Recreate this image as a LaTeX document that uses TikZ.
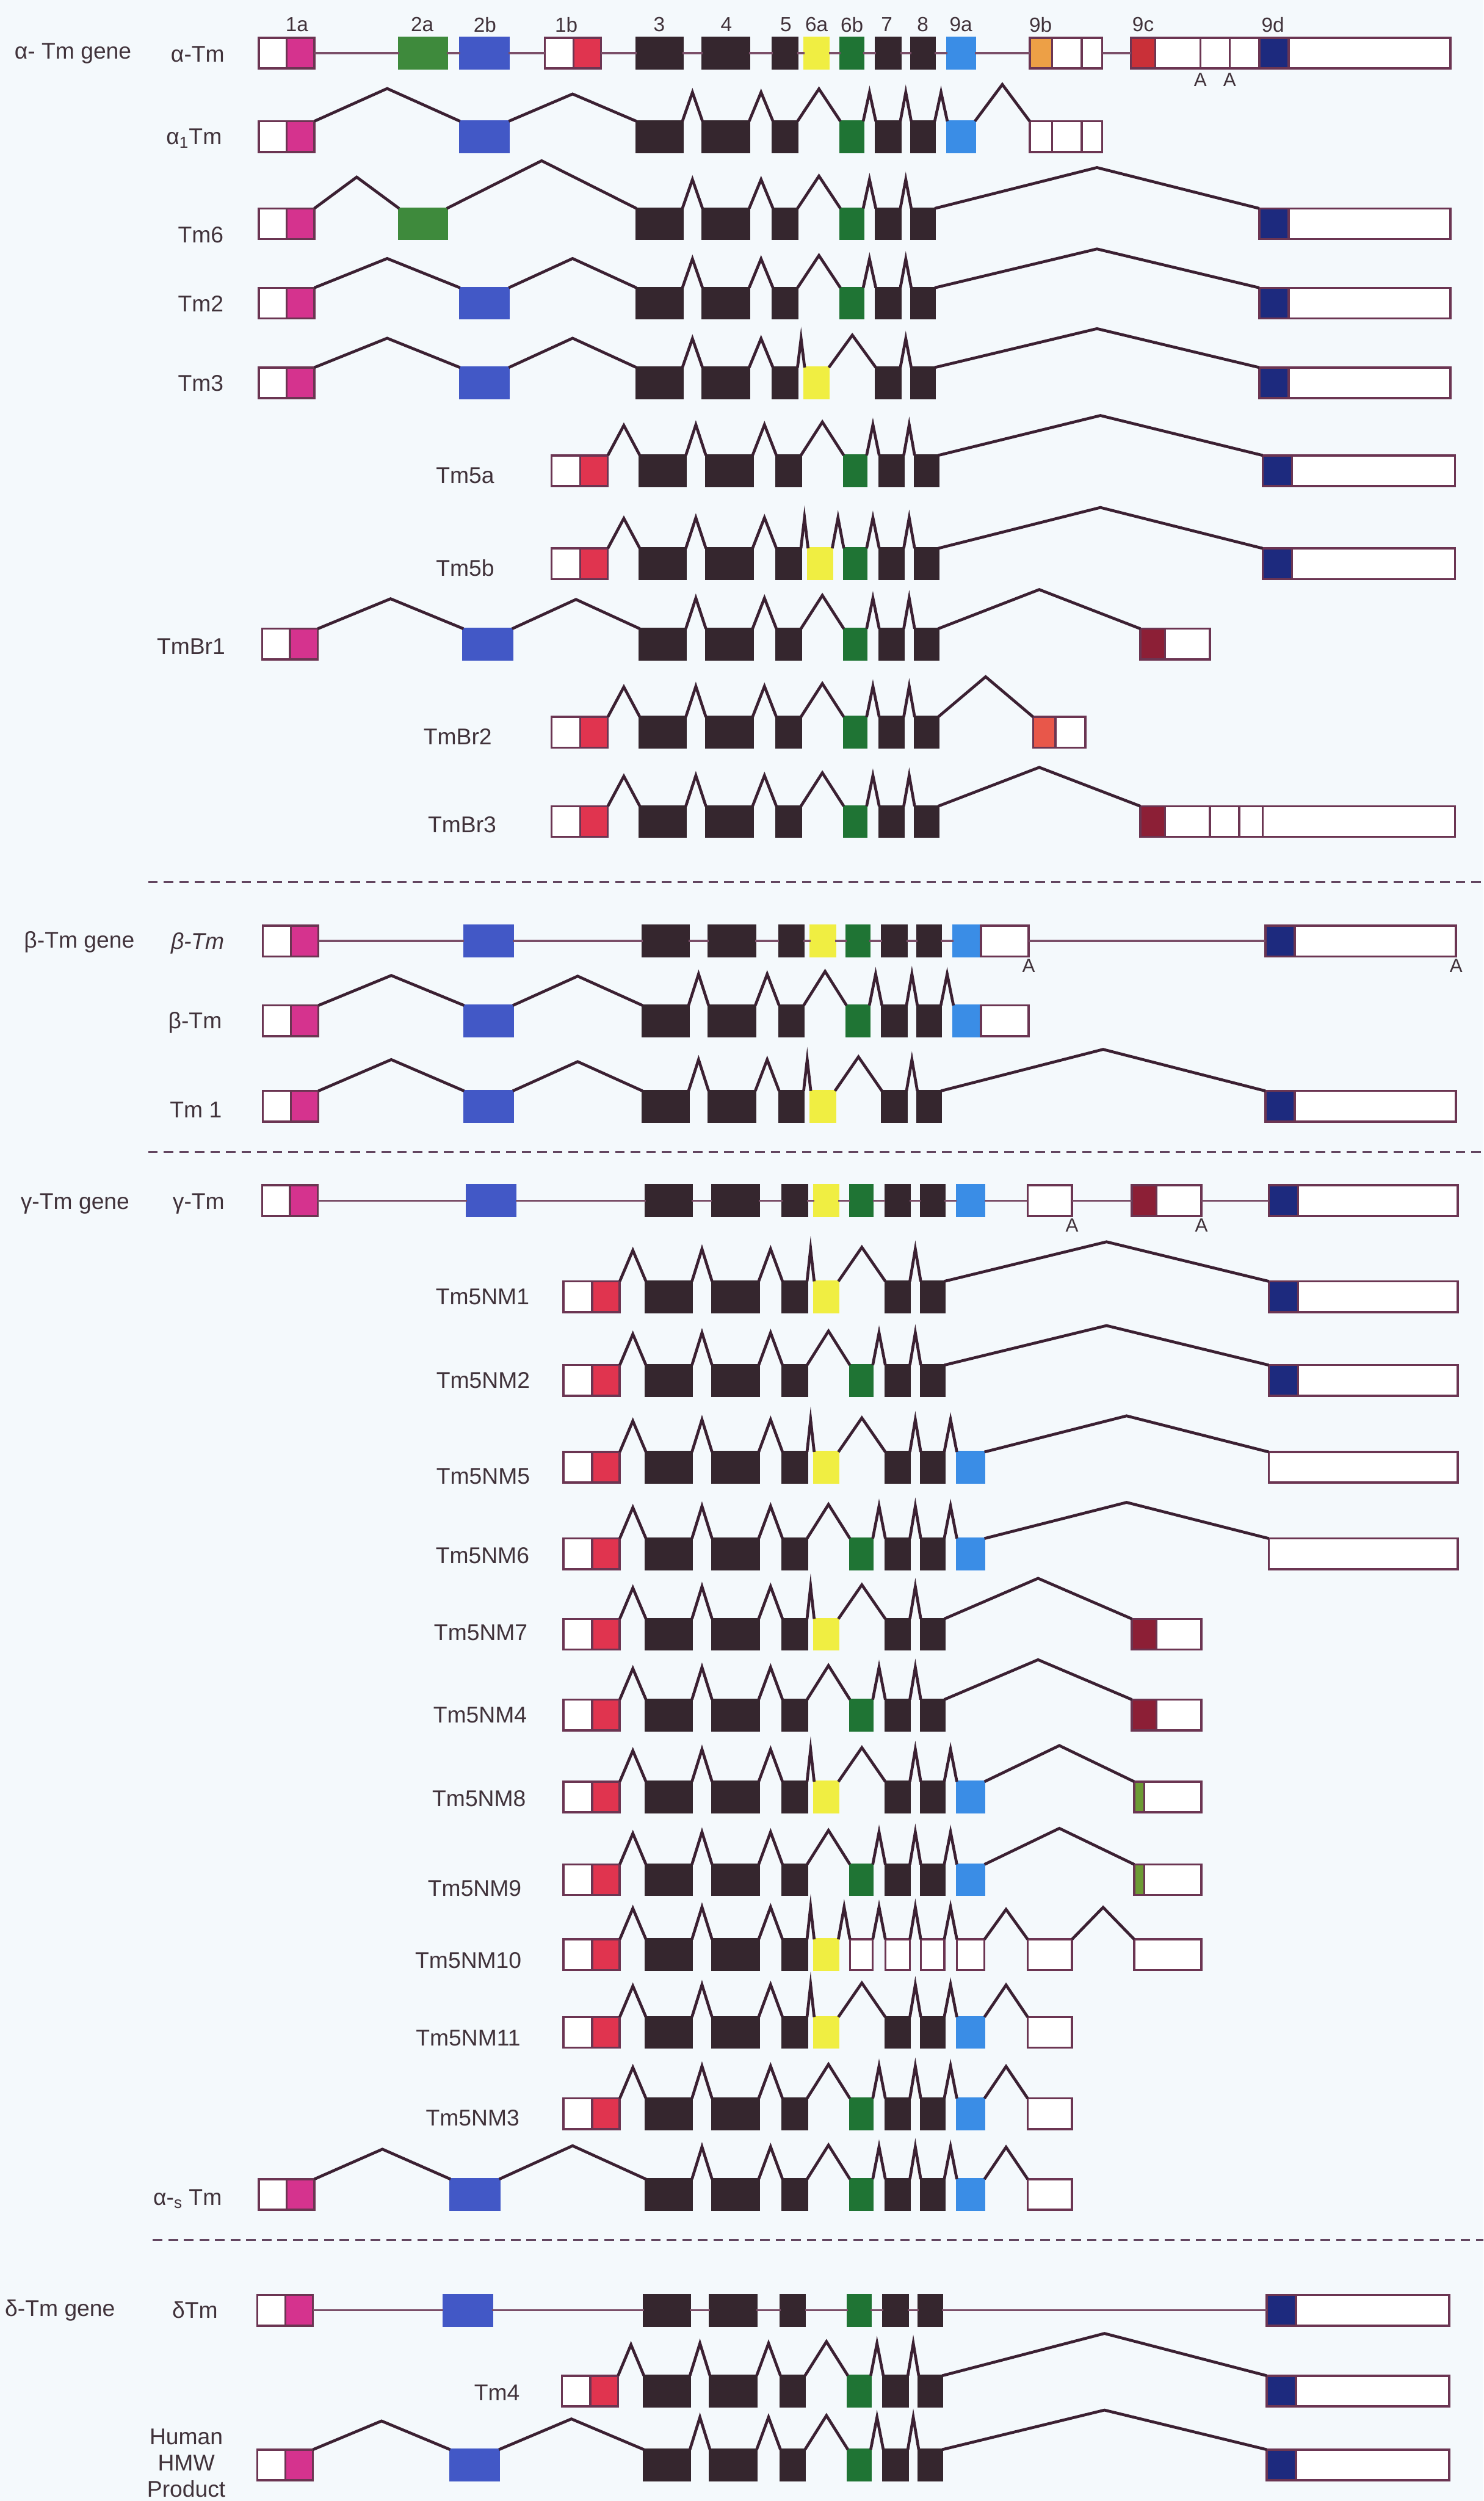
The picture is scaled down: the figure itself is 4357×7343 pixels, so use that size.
\documentclass[tikz,border=0pt]{standalone}
\usepackage{fontspec}
\setmainfont{Liberation Sans}
\usetikzlibrary{calc}

\definecolor{bg}{HTML}{F4F9FC}
\definecolor{outl}{HTML}{6B3552}
\definecolor{splicec}{HTML}{3B2032}
\definecolor{intronc}{HTML}{7A4E68}
\definecolor{darkex}{HTML}{35262E}
\definecolor{txt}{HTML}{40323A}
\definecolor{dashc}{HTML}{634660}
\definecolor{cMag}{HTML}{D5338E}
\definecolor{cRed}{HTML}{E0344F}
\definecolor{cGreenA}{HTML}{3E8A3C}
\definecolor{cBlue}{HTML}{4258C6}
\definecolor{cYellow}{HTML}{F0EE42}
\definecolor{cGreenB}{HTML}{1F7434}
\definecolor{cSky}{HTML}{3A8DE6}
\definecolor{cOrange}{HTML}{EDA046}
\definecolor{cRedC}{HTML}{C93038}
\definecolor{cMaroon}{HTML}{8C1F36}
\definecolor{cNavy}{HTML}{1D2A7E}
\definecolor{cSalmon}{HTML}{E8574A}
\definecolor{cOlive}{HTML}{6C9A34}

% exon grid: key -> left and right edge; shifts set per block of rows
\newcommand\setx[3]{\expandafter\def\csname xl@#1\endcsname{#2}\expandafter\def\csname xr@#1\endcsname{#3}}
\setx{1aw}{\ls+760}{\ls+842}
\setx{1a}{\ls+842}{\ls+923}
\setx{2a}{\ls+1172}{\ls+1312}
\setx{2b}{\ls+\bs+1351}{\ls+\bs+1494}
\setx{1bw}{\ms+1600}{\ms+1684}
\setx{1b}{\ms+1684}{\ms+1765}
\setx{3}{\rs+1869}{\rs+2004}
\setx{4}{\rs+2063}{\rs+2200}
\setx{5}{\rs+2270}{\rs+2342}
\setx{6a}{\rs+2363}{\rs+2434}
\setx{6b}{\rs+2468}{\rs+2535}
\setx{7}{\rs+2572}{\rs+2644}
\setx{8}{\rs+2676}{\rs+2745}
\setx{9a}{\rs+2782}{\rs+2863}
\setx{9aw}{\rs+2863}{\rs+3003}
\setx{9b}{\rs+3024}{\rs+3090}
\setx{9bw1}{\rs+3090}{\rs+3177}
\setx{9bw2}{\rs+3177}{\rs+3237}
\setx{9bx}{\rs+2990}{\rs+3120}
\setx{9c}{\cs+3321}{\cs+3393}
\setx{9cw1}{\cs+3393}{\cs+3525}
\setx{9cw2}{\cs+3525}{\cs+3611}
\setx{9cw3}{\cs+3611}{\rs+3698}
\setx{9cg}{\cs+3328}{\cs+3357}
\setx{9cgw}{\cs+3357}{\cs+3525}
\setx{9cx}{\cs+3328}{\cs+3525}
\setx{9d}{\rs+3698}{\rs+3784}
\setx{9dw}{\rs+3784}{\es+4259}
\setx{9dx}{\rs+3698}{\es+4259}

% one exon box of the current row
\newcommand\exon[2]{%
  \pgfmathsetmacro\exA{\csname xl@#1\endcsname}%
  \pgfmathsetmacro\exB{\csname xr@#1\endcsname}%
  \pgfmathsetmacro\exW{(\exB-\exA)*0.01}%
  \node[#2,minimum width=\exW cm,anchor=north west] (\rowp x#1) at (\exA,\rowt) {};}
% splice junction drawn as a peak between two exons
\newcommand\sj[3][\hs]{\draw[splice] (\rowp x#2.north east) -- ($(\rowp x#2.north east)!0.5!(\rowp x#3.north west)+(0,-#1)$) -- (\rowp x#3.north west);}
% intron line of a gene row
\newcommand\intr[2]{\draw[intron] (\rowp x#1.east) -- (\rowp x#2.west);}

\tikzset{
  exon/.style={draw=outl, line width=1.8pt, inner sep=0pt, outer sep=0pt, minimum height=0.9cm, fill=white},
  wh/.style={exon},
  dk/.style={exon, fill=darkex, draw=darkex},
  fx/.style={exon, fill=#1, draw=#1},
  cx/.style={exon, fill=#1},
  splice/.style={draw=splicec, line width=2.4pt, line join=miter},
  intron/.style={draw=intronc, line width=1.8pt},
  divider/.style={draw=dashc, line width=1.5pt, dash pattern=on 8pt off 5pt},
  lab/.style={text=txt, font=\fontsize{19}{22}\selectfont, inner sep=0pt},
  num/.style={text=txt, font=\fontsize{17}{20}\selectfont, inner sep=0pt},
  polyA/.style={text=txt, font=\fontsize{16}{18}\selectfont, inner sep=0pt},
}

\begin{document}
\begin{tikzpicture}[x=0.01cm,y=-0.01cm]
\fill[bg] (0,0) rectangle (4357,7343);
\useasboundingbox (0,0) rectangle (4357,7343);

%% ---------------- alpha-Tm gene ----------------
\def\ls{0}\def\bs{0}\def\ms{0}\def\rs{0}\def\cs{0}\def\es{0}\def\hs{85}
\def\rowp{r0}\def\rowt{111}
\exon{1aw}{wh}\exon{1a}{cx=cMag}\exon{2a}{fx=cGreenA}\exon{2b}{fx=cBlue}\exon{1bw}{wh}\exon{1b}{cx=cRed}
\exon{3}{dk}\exon{4}{dk}\exon{5}{dk}\exon{6a}{fx=cYellow}\exon{6b}{fx=cGreenB}\exon{7}{dk}\exon{8}{dk}\exon{9a}{fx=cSky}
\exon{9b}{cx=cOrange}\exon{9bw1}{wh}\exon{9bw2}{wh}\exon{9c}{cx=cRedC}\exon{9cw1}{wh}\exon{9cw2}{wh}\exon{9cw3}{wh}\exon{9d}{cx=cNavy}\exon{9dw}{wh}
\intr{1a}{2a}\intr{2a}{2b}\intr{2b}{1bw}\intr{1b}{3}\intr{3}{4}\intr{4}{5}\intr{5}{6a}\intr{6a}{6b}\intr{6b}{7}\intr{7}{8}\intr{8}{9a}\intr{9a}{9b}\intr{9bw2}{9c}
\node[polyA,anchor=north] (pa1) at ($(r0x9cw1.south east)+(0,14)$) {A};
\node[polyA,anchor=north] (pa2) at ($(r0x9cw2.south east)+(0,14)$) {A};
\node[lab,anchor=west] (g0) at (42,157) {α- Tm gene};
\node[lab,anchor=east] (t0) at (660,160) {α-Tm};
\foreach \k/\x in {1a/872,2a/1240,2b/1424,1b/1663,3/1936,4/2133,5/2308,6a/2398,6b/2502,7/2604,8/2710,9a/2822,9b/3056,9c/3357,9d/3738}
  \node[num] (n\k) at (\x,72) {\k};

\def\rowp{r1}\def\rowt{356}
\exon{1aw}{wh}\exon{1a}{cx=cMag}\exon{2b}{fx=cBlue}\exon{3}{dk}\exon{4}{dk}\exon{5}{dk}\exon{6b}{fx=cGreenB}\exon{7}{dk}\exon{8}{dk}\exon{9a}{fx=cSky}\exon{9b}{wh}\exon{9bw1}{wh}\exon{9bw2}{wh}
\sj[96]{1a}{2b}\sj[80]{2b}{3}\sj{3}{4}\sj{4}{5}\sj[95]{5}{6b}\sj{6b}{7}\sj{7}{8}\sj{8}{9a}\sj[108]{9a}{9b}
\node[lab,anchor=east] (t1) at (652,\rowt+50) {α\textsubscript{1}Tm};

\def\rowp{r2}\def\rowt{612}
\exon{1aw}{wh}\exon{1a}{cx=cMag}\exon{2a}{fx=cGreenA}\exon{3}{dk}\exon{4}{dk}\exon{5}{dk}\exon{6b}{fx=cGreenB}\exon{7}{dk}\exon{8}{dk}\exon{9d}{cx=cNavy}\exon{9dw}{wh}
\sj[92]{1a}{2a}\sj[140]{2a}{3}\sj{3}{4}\sj{4}{5}\sj[95]{5}{6b}\sj{6b}{7}\sj{7}{8}\sj[120]{8}{9d}
\node[lab,anchor=east] (t2) at (657,\rowt+77) {Tm6};

\def\rowp{r3}\def\rowt{845}
\exon{1aw}{wh}\exon{1a}{cx=cMag}\exon{2b}{fx=cBlue}\exon{3}{dk}\exon{4}{dk}\exon{5}{dk}\exon{6b}{fx=cGreenB}\exon{7}{dk}\exon{8}{dk}\exon{9d}{cx=cNavy}\exon{9dw}{wh}
\sj[86]{1a}{2b}\sj[86]{2b}{3}\sj{3}{4}\sj{4}{5}\sj[95]{5}{6b}\sj{6b}{7}\sj{7}{8}\sj[114]{8}{9d}
\node[lab,anchor=east] (t3) at (657,\rowt+47) {Tm2};

\def\rowp{r4}\def\rowt{1079}
\exon{1aw}{wh}\exon{1a}{cx=cMag}\exon{2b}{fx=cBlue}\exon{3}{dk}\exon{4}{dk}\exon{5}{dk}\exon{6a}{fx=cYellow}\exon{7}{dk}\exon{8}{dk}\exon{9d}{cx=cNavy}\exon{9dw}{wh}
\sj[86]{1a}{2b}\sj[86]{2b}{3}\sj{3}{4}\sj{4}{5}\sj{5}{6a}\sj[95]{6a}{7}\sj{7}{8}\sj[114]{8}{9d}
\node[lab,anchor=east] (t4) at (657,\rowt+47) {Tm3};

\def\ls{10}\def\ms{20}\def\rs{10}\def\cs{28}\def\es{14}\def\hs{90}
\def\rowp{r5}\def\rowt{1337}
\exon{1bw}{wh}\exon{1b}{cx=cRed}\exon{3}{dk}\exon{4}{dk}\exon{5}{dk}\exon{6b}{fx=cGreenB}\exon{7}{dk}\exon{8}{dk}\exon{9d}{cx=cNavy}\exon{9dw}{wh}
\sj[88]{1b}{3}\sj{3}{4}\sj{4}{5}\sj[98]{5}{6b}\sj{6b}{7}\sj{7}{8}\sj[117]{8}{9d}
\node[lab,anchor=east] (t5) at (1452,\rowt+60) {Tm5a};

\def\rowp{r6}\def\rowt{1610}
\exon{1bw}{wh}\exon{1b}{cx=cRed}\exon{3}{dk}\exon{4}{dk}\exon{5}{dk}\exon{6a}{fx=cYellow}\exon{6b}{fx=cGreenB}\exon{7}{dk}\exon{8}{dk}\exon{9d}{cx=cNavy}\exon{9dw}{wh}
\sj[88]{1b}{3}\sj{3}{4}\sj{4}{5}\sj{5}{6a}\sj{6a}{6b}\sj{6b}{7}\sj{7}{8}\sj[120]{8}{9d}
\node[lab,anchor=east] (t6) at (1452,\rowt+58) {Tm5b};

\def\rowp{r7}\def\rowt{1846}
\exon{1aw}{wh}\exon{1a}{cx=cMag}\exon{2b}{fx=cBlue}\exon{3}{dk}\exon{4}{dk}\exon{5}{dk}\exon{6b}{fx=cGreenB}\exon{7}{dk}\exon{8}{dk}\exon{9c}{cx=cMaroon}\exon{9cw1}{wh}
\sj[88]{1a}{2b}\sj[86]{2b}{3}\sj{3}{4}\sj{4}{5}\sj[98]{5}{6b}\sj{6b}{7}\sj{7}{8}\sj[115]{8}{9c}
\node[lab,anchor=east] (t7) at (662,\rowt+52) {TmBr1};

\def\rowp{r8}\def\rowt{2105}
\exon{1bw}{wh}\exon{1b}{cx=cRed}\exon{3}{dk}\exon{4}{dk}\exon{5}{dk}\exon{6b}{fx=cGreenB}\exon{7}{dk}\exon{8}{dk}\exon{9b}{cx=cSalmon}\exon{9bw1}{wh}
\sj[88]{1b}{3}\sj{3}{4}\sj{4}{5}\sj[98]{5}{6b}\sj{6b}{7}\sj{7}{8}\sj[118]{8}{9b}
\node[lab,anchor=east] (t8) at (1445,\rowt+57) {TmBr2};

\def\rowp{r9}\def\rowt{2367}
\exon{1bw}{wh}\exon{1b}{cx=cRed}\exon{3}{dk}\exon{4}{dk}\exon{5}{dk}\exon{6b}{fx=cGreenB}\exon{7}{dk}\exon{8}{dk}\exon{9c}{cx=cMaroon}\exon{9cw1}{wh}\exon{9cw2}{wh}\exon{9cw3}{wh}\exon{9dx}{wh}
\sj[88]{1b}{3}\sj{3}{4}\sj{4}{5}\sj[98]{5}{6b}\sj{6b}{7}\sj{7}{8}\sj[114]{8}{9c}
\node[lab,anchor=east] (t9) at (1458,\rowt+55) {TmBr3};

\coordinate (d1a) at (435,2590); \coordinate (d1b) at (4357,2590);
\draw[divider] (d1a) -- (d1b);

%% ---------------- beta-Tm gene ----------------
\def\ls{12}\def\bs{0}\def\rs{18}\def\es{17}\def\hs{92}
\def\rowp{r10}\def\rowt{2718}
\exon{1aw}{wh}\exon{1a}{cx=cMag}\exon{2b}{fx=cBlue}\exon{3}{dk}\exon{4}{dk}\exon{5}{dk}\exon{6a}{fx=cYellow}\exon{6b}{fx=cGreenB}\exon{7}{dk}\exon{8}{dk}\exon{9a}{fx=cSky}\exon{9aw}{wh}\exon{9d}{cx=cNavy}\exon{9dw}{wh}
\intr{1a}{2b}\intr{2b}{3}\intr{3}{4}\intr{4}{5}\intr{5}{6a}\intr{6a}{6b}\intr{6b}{7}\intr{7}{8}\intr{8}{9a}\intr{9aw}{9d}
\node[polyA,anchor=north] (pa3) at ($(r10x9aw.south east)+(0,8)$) {A};
\node[polyA,anchor=north] (pa4) at ($(r10x9dw.south east)+(0,8)$) {A};
\node[lab,anchor=west] (g10) at (70,\rowt+48) {β-Tm gene};
\node[lab,anchor=east] (t10) at (660,\rowt+52) {\itshape β-Tm};

\def\rowp{r11}\def\rowt{2952}
\exon{1aw}{wh}\exon{1a}{cx=cMag}\exon{2b}{fx=cBlue}\exon{3}{dk}\exon{4}{dk}\exon{5}{dk}\exon{6b}{fx=cGreenB}\exon{7}{dk}\exon{8}{dk}\exon{9a}{fx=cSky}\exon{9aw}{wh}
\sj[88]{1a}{2b}\sj[86]{2b}{3}\sj{3}{4}\sj{4}{5}\sj[100]{5}{6b}\sj{6b}{7}\sj{7}{8}\sj{8}{9a}
\node[lab,anchor=east] (t11) at (652,\rowt+50) {β-Tm};

\def\rowp{r12}\def\rowt{3203}
\exon{1aw}{wh}\exon{1a}{cx=cMag}\exon{2b}{fx=cBlue}\exon{3}{dk}\exon{4}{dk}\exon{5}{dk}\exon{6a}{fx=cYellow}\exon{7}{dk}\exon{8}{dk}\exon{9d}{cx=cNavy}\exon{9dw}{wh}
\sj[92]{1a}{2b}\sj[86]{2b}{3}\sj{3}{4}\sj{4}{5}\sj{5}{6a}\sj[100]{6a}{7}\sj{7}{8}\sj[122]{8}{9d}
\node[lab,anchor=east] (t12) at (652,\rowt+55) {Tm 1};

\coordinate (d2a) at (435,3382); \coordinate (d2b) at (4357,3382);
\draw[divider] (d2a) -- (d2b);

%% ---------------- gamma-Tm gene ----------------
\def\ls{10}\def\bs{10}\def\ms{55}\def\rs{28}\def\cs{3}\def\es{22}\def\hs{95}
\def\rowp{r13}\def\rowt{3480}
\exon{1aw}{wh}\exon{1a}{cx=cMag}\exon{2b}{fx=cBlue}\exon{3}{dk}\exon{4}{dk}\exon{5}{dk}\exon{6a}{fx=cYellow}\exon{6b}{fx=cGreenB}\exon{7}{dk}\exon{8}{dk}\exon{9a}{fx=cSky}\exon{9bx}{wh}\exon{9c}{cx=cMaroon}\exon{9cw1}{wh}\exon{9d}{cx=cNavy}\exon{9dw}{wh}
\intr{1a}{2b}\intr{2b}{3}\intr{3}{4}\intr{4}{5}\intr{5}{6a}\intr{6a}{6b}\intr{6b}{7}\intr{7}{8}\intr{8}{9a}\intr{9a}{9bx}\intr{9bx}{9c}\intr{9cw1}{9d}
\node[polyA,anchor=north] (pa5) at ($(r13x9bx.south east)+(0,8)$) {A};
\node[polyA,anchor=north] (pa6) at ($(r13x9cw1.south east)+(0,8)$) {A};
\node[lab,anchor=west] (g13) at (60,\rowt+55) {γ-Tm gene};
\node[lab,anchor=east] (t13) at (660,\rowt+55) {γ-Tm};

\def\rowp{r14}\def\rowt{3762}
\exon{1bw}{wh}\exon{1b}{cx=cRed}\exon{3}{dk}\exon{4}{dk}\exon{5}{dk}\exon{6a}{fx=cYellow}\exon{7}{dk}\exon{8}{dk}\exon{9d}{cx=cNavy}\exon{9dw}{wh}
\sj[91]{1b}{3}\sj{3}{4}\sj{4}{5}\sj{5}{6a}\sj[100]{6a}{7}\sj{7}{8}\sj[116]{8}{9d}
\node[lab,anchor=east] (t14) at (1555,\rowt+45) {Tm5NM1};

\def\rowp{r15}\def\rowt{4008}
\exon{1bw}{wh}\exon{1b}{cx=cRed}\exon{3}{dk}\exon{4}{dk}\exon{5}{dk}\exon{6b}{fx=cGreenB}\exon{7}{dk}\exon{8}{dk}\exon{9d}{cx=cNavy}\exon{9dw}{wh}
\sj[91]{1b}{3}\sj{3}{4}\sj{4}{5}\sj[100]{5}{6b}\sj{6b}{7}\sj{7}{8}\sj[116]{8}{9d}
\node[lab,anchor=east] (t15) at (1557,\rowt+45) {Tm5NM2};

\def\rowp{r16}\def\rowt{4263}
\exon{1bw}{wh}\exon{1b}{cx=cRed}\exon{3}{dk}\exon{4}{dk}\exon{5}{dk}\exon{6a}{fx=cYellow}\exon{7}{dk}\exon{8}{dk}\exon{9a}{fx=cSky}\exon{9dx}{wh}
\sj[91]{1b}{3}\sj{3}{4}\sj{4}{5}\sj{5}{6a}\sj[100]{6a}{7}\sj{7}{8}\sj{8}{9a}\sj[106]{9a}{9dx}
\node[lab,anchor=east] (t16) at (1557,\rowt+72) {Tm5NM5};

\def\rowp{r17}\def\rowt{4517}
\exon{1bw}{wh}\exon{1b}{cx=cRed}\exon{3}{dk}\exon{4}{dk}\exon{5}{dk}\exon{6b}{fx=cGreenB}\exon{7}{dk}\exon{8}{dk}\exon{9a}{fx=cSky}\exon{9dx}{wh}
\sj[91]{1b}{3}\sj{3}{4}\sj{4}{5}\sj[100]{5}{6b}\sj{6b}{7}\sj{7}{8}\sj{8}{9a}\sj[106]{9a}{9dx}
\node[lab,anchor=east] (t17) at (1555,\rowt+50) {Tm5NM6};

\def\rowp{r18}\def\rowt{4753}
\exon{1bw}{wh}\exon{1b}{cx=cRed}\exon{3}{dk}\exon{4}{dk}\exon{5}{dk}\exon{6a}{fx=cYellow}\exon{7}{dk}\exon{8}{dk}\exon{9c}{cx=cMaroon}\exon{9cw1}{wh}
\sj[91]{1b}{3}\sj{3}{4}\sj{4}{5}\sj{5}{6a}\sj[100]{6a}{7}\sj{7}{8}\sj[119]{8}{9c}
\node[lab,anchor=east] (t18) at (1550,\rowt+40) {Tm5NM7};

\def\rowp{r19}\def\rowt{4990}
\exon{1bw}{wh}\exon{1b}{cx=cRed}\exon{3}{dk}\exon{4}{dk}\exon{5}{dk}\exon{6b}{fx=cGreenB}\exon{7}{dk}\exon{8}{dk}\exon{9c}{cx=cMaroon}\exon{9cw1}{wh}
\sj[91]{1b}{3}\sj{3}{4}\sj{4}{5}\sj[100]{5}{6b}\sj{6b}{7}\sj{7}{8}\sj[117]{8}{9c}
\node[lab,anchor=east] (t19) at (1548,\rowt+45) {Tm5NM4};

\def\rowp{r20}\def\rowt{5231}
\exon{1bw}{wh}\exon{1b}{cx=cRed}\exon{3}{dk}\exon{4}{dk}\exon{5}{dk}\exon{6a}{fx=cYellow}\exon{7}{dk}\exon{8}{dk}\exon{9a}{fx=cSky}\exon{9cg}{cx=cOlive}\exon{9cgw}{wh}
\sj[91]{1b}{3}\sj{3}{4}\sj{4}{5}\sj{5}{6a}\sj[100]{6a}{7}\sj{7}{8}\sj{8}{9a}\sj[106]{9a}{9cg}
\node[lab,anchor=east] (t20) at (1545,\rowt+50) {Tm5NM8};

\def\rowp{r21}\def\rowt{5474}
\exon{1bw}{wh}\exon{1b}{cx=cRed}\exon{3}{dk}\exon{4}{dk}\exon{5}{dk}\exon{6b}{fx=cGreenB}\exon{7}{dk}\exon{8}{dk}\exon{9a}{fx=cSky}\exon{9cg}{cx=cOlive}\exon{9cgw}{wh}
\sj[91]{1b}{3}\sj{3}{4}\sj{4}{5}\sj[100]{5}{6b}\sj{6b}{7}\sj{7}{8}\sj{8}{9a}\sj[106]{9a}{9cg}
\node[lab,anchor=east] (t21) at (1532,\rowt+70) {Tm5NM9};

\def\rowp{r22}\def\rowt{5694}
\exon{1bw}{wh}\exon{1b}{cx=cRed}\exon{3}{dk}\exon{4}{dk}\exon{5}{dk}\exon{6a}{fx=cYellow}\exon{6b}{wh}\exon{7}{wh}\exon{8}{wh}\exon{9a}{wh}\exon{9bx}{wh}\exon{9cx}{wh}
\sj[91]{1b}{3}\sj{3}{4}\sj{4}{5}\sj{5}{6a}\sj{6a}{6b}\sj{6b}{7}\sj{7}{8}\sj{8}{9a}\sj[88]{9a}{9bx}\sj[94]{9bx}{9cx}
\node[lab,anchor=east] (t22) at (1532,\rowt+62) {Tm5NM10};

\def\rowp{r23}\def\rowt{5922}
\exon{1bw}{wh}\exon{1b}{cx=cRed}\exon{3}{dk}\exon{4}{dk}\exon{5}{dk}\exon{6a}{fx=cYellow}\exon{7}{dk}\exon{8}{dk}\exon{9a}{fx=cSky}\exon{9bx}{wh}
\sj[91]{1b}{3}\sj{3}{4}\sj{4}{5}\sj{5}{6a}\sj[100]{6a}{7}\sj{7}{8}\sj{8}{9a}\sj[94]{9a}{9bx}
\node[lab,anchor=east] (t23) at (1529,\rowt+62) {Tm5NM11};

\def\rowp{r24}\def\rowt{6161}
\exon{1bw}{wh}\exon{1b}{cx=cRed}\exon{3}{dk}\exon{4}{dk}\exon{5}{dk}\exon{6b}{fx=cGreenB}\exon{7}{dk}\exon{8}{dk}\exon{9a}{fx=cSky}\exon{9bx}{wh}
\sj[91]{1b}{3}\sj{3}{4}\sj{4}{5}\sj[100]{5}{6b}\sj{6b}{7}\sj{7}{8}\sj{8}{9a}\sj[94]{9a}{9bx}
\node[lab,anchor=east] (t24) at (1526,\rowt+58) {Tm5NM3};

\def\ls{0}\def\bs{-28}
\def\rowp{r25}\def\rowt{6398}
\exon{1aw}{wh}\exon{1a}{cx=cMag}\exon{2b}{fx=cBlue}\exon{3}{dk}\exon{4}{dk}\exon{5}{dk}\exon{6b}{fx=cGreenB}\exon{7}{dk}\exon{8}{dk}\exon{9a}{fx=cSky}\exon{9bx}{wh}
\sj[88]{1a}{2b}\sj[98]{2b}{3}\sj{3}{4}\sj{4}{5}\sj[100]{5}{6b}\sj{6b}{7}\sj{7}{8}\sj{8}{9a}\sj[94]{9a}{9bx}
\node[lab,anchor=east] (t25) at (652,\rowt+58) {α-\textsubscript{s} Tm};

\coordinate (d3a) at (449,6576); \coordinate (d3b) at (4357,6576);
\draw[divider] (d3a) -- (d3b);

%% ---------------- delta-Tm gene ----------------
\def\ls{-4}\def\bs{-45}\def\ms{50}\def\rs{22}\def\es{-3}\def\hs{95}
\def\rowp{r26}\def\rowt{6738}
\exon{1aw}{wh}\exon{1a}{cx=cMag}\exon{2b}{fx=cBlue}\exon{3}{dk}\exon{4}{dk}\exon{5}{dk}\exon{6b}{fx=cGreenB}\exon{7}{dk}\exon{8}{dk}\exon{9d}{cx=cNavy}\exon{9dw}{wh}
\intr{1a}{2b}\intr{2b}{3}\intr{3}{4}\intr{4}{5}\intr{5}{6b}\intr{6b}{7}\intr{7}{8}\intr{8}{9d}
\node[lab,anchor=west] (g26) at (14,\rowt+45) {δ-Tm gene};
\node[lab,anchor=east] (t26) at (640,\rowt+45) {δTm};

\def\rowp{r27}\def\rowt{6975}
\exon{1bw}{wh}\exon{1b}{cx=cRed}\exon{3}{dk}\exon{4}{dk}\exon{5}{dk}\exon{6b}{fx=cGreenB}\exon{7}{dk}\exon{8}{dk}\exon{9d}{cx=cNavy}\exon{9dw}{wh}
\sj[91]{1b}{3}\sj{3}{4}\sj{4}{5}\sj[100]{5}{6b}\sj{6b}{7}\sj{7}{8}\sj[124]{8}{9d}
\node[lab,anchor=east] (t27) at (1527,\rowt+50) {Tm4};

\def\bs{-25}
\def\rowp{r28}\def\rowt{7192}
\exon{1aw}{wh}\exon{1a}{cx=cMag}\exon{2b}{fx=cBlue}\exon{3}{dk}\exon{4}{dk}\exon{5}{dk}\exon{6b}{fx=cGreenB}\exon{7}{dk}\exon{8}{dk}\exon{9d}{cx=cNavy}\exon{9dw}{wh}
\sj[84]{1a}{2b}\sj[90]{2b}{3}\sj{3}{4}\sj{4}{5}\sj[100]{5}{6b}\sj{6b}{7}\sj{7}{8}\sj[116]{8}{9d}
\node[lab,align=center,font=\fontsize{19}{22}\selectfont,text=txt] (t28) at (547,7231) {Human\\HMW\\Product};

\end{tikzpicture}
\end{document}
